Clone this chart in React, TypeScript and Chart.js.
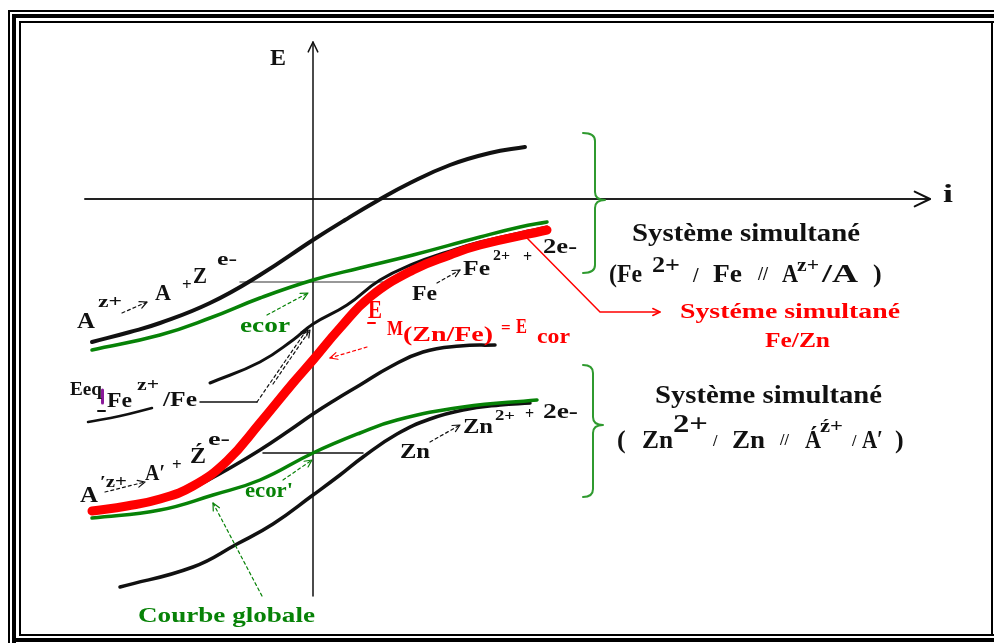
import React, { useEffect, useRef } from "react";
import { Chart, registerables } from "chart.js";

Chart.register(...registerables);

type P = [number, number];

// Polarisation curves: current i (x) against potential E (y), arbitrary units,
// origin where the i and E axes cross.
const curveA: P[] = [[-221, -143], [-183, -133], [-153, -124], [-103, -104], [-53, -76], [0, -41], [32, -21], [64, -2], [97, 16], [137, 34], [177, 46], [212, 52]];
const globalFeA: P[] = [[-221, -151], [-153, -136], [-103, -119], [-53, -99], [0, -81], [47, -69], [100, -56], [167, -38], [207, -28], [234, -23]];
const curveFe: P[] = [[-103, -184], [-53, -163], [-20, -141], [0, -125], [34, -106], [67, -81], [100, -65], [134, -53], [167, -43], [234, -28]];
const eqFeStub: P[] = [[-225, -223], [-193, -217], [-161, -209]];
const globalFeZn: P[] = [[-221, -312], [-186, -307], [-153, -300], [-120, -287], [-86, -262], [-53, -224], [-20, -184], [0, -161], [27, -129], [57, -98], [100, -71], [137, -56], [167, -46], [234, -31]];
const curveAprime: P[] = [[-123, -291], [-83, -269], [-53, -251], [-23, -231], [0, -215], [22, -201], [47, -186], [77, -168], [110, -153], [147, -147], [182, -146]];
const globalZnA: P[] = [[-221, -319], [-153, -311], [-100, -296], [-53, -281], [0, -254], [47, -234], [84, -221], [150, -208], [224, -201]];
const curveZn: P[] = [[-193, -388], [-120, -368], [-76, -345], [-40, -325], [0, -296], [27, -276], [50, -258], [84, -235], [117, -220], [150, -211], [187, -206], [217, -204]];

// Axes and corrosion-potential guides
const axisE: P[] = [[0, 157], [0, -397]];
const axisI: P[] = [[-228, 0], [617, 0]];
const ecorFeLine: P[] = [[-73, -83], [70, -83]];
const ecorZnLine: P[] = [[-50, -254], [50, -254]];

const BLACK = "#111111";
const GREEN = "#078207";
const RED = "#ff0000";
const BRACE = "#2f9a2f";
const PURPLE = "#8a1a9a";

type Label = { t: string; x: number; y: number; s: number; c: string; w?: number };
const labels: Label[] = [
  { t: "E", x: -43, y: 134, s: 24, c: BLACK, w: 16 },
  { t: "i", x: 630, y: -3, s: 25, c: BLACK, w: 10 },
  // A^z+ -> A + z e-
  { t: "A", x: -236, y: -129, s: 24, c: BLACK, w: 18 },
  { t: "z+", x: -215, y: -108, s: 17, c: BLACK, w: 24 },
  { t: "A", x: -158, y: -101, s: 23, c: BLACK, w: 16 },
  { t: "+", x: -131, y: -91, s: 17, c: BLACK },
  { t: "Z", x: -120, y: -84, s: 23, c: BLACK, w: 14 },
  { t: "e-", x: -96, y: -66, s: 19, c: BLACK, w: 20 },
  { t: "ecor", x: -73, y: -133, s: 20, c: GREEN, w: 50 },
  // Eeq Fe z+/Fe
  { t: "Eeq", x: -243, y: -196, s: 19, c: BLACK, w: 32 },
  { t: "Fe", x: -206, y: -208, s: 20, c: BLACK, w: 25 },
  { t: "z+", x: -176, y: -191, s: 16, c: BLACK, w: 22 },
  { t: "/Fe", x: -150, y: -207, s: 20, c: BLACK, w: 34 },
  // Fe -> Fe2+ + 2e-
  { t: "Fe", x: 99, y: -101, s: 20, c: BLACK, w: 25 },
  { t: "Fe", x: 150, y: -76, s: 20, c: BLACK, w: 27 },
  { t: "2+", x: 180, y: -61, s: 15, c: BLACK, w: 17 },
  { t: "+", x: 210, y: -63, s: 16, c: BLACK },
  { t: "2e-", x: 230, y: -54, s: 20, c: BLACK, w: 34 },
  // E M(Zn/Fe) = E cor
  { t: "E", x: 55, y: -119, s: 26, c: RED, w: 14 },
  { t: "M", x: 74, y: -136, s: 20, c: RED, w: 16 },
  { t: "(Zn/Fe)", x: 90, y: -142, s: 20, c: RED, w: 90 },
  { t: "=", x: 188, y: -134, s: 17, c: RED },
  { t: "E", x: 203, y: -134, s: 20, c: RED, w: 11 },
  { t: "cor", x: 224, y: -144, s: 22, c: RED, w: 33 },
  // first simultaneous system
  { t: "Système simultané", x: 319, y: -42, s: 26, c: BLACK, w: 228 },
  { t: "(Fe", x: 296, y: -83, s: 26, c: BLACK, w: 33 },
  { t: "2+", x: 339, y: -73, s: 23, c: BLACK, w: 28 },
  { t: "/", x: 380, y: -83, s: 20, c: BLACK },
  { t: "Fe", x: 400, y: -83, s: 26, c: BLACK, w: 29 },
  { t: "//", x: 445, y: -81, s: 18, c: BLACK },
  { t: "A", x: 469, y: -83, s: 26, c: BLACK, w: 16 },
  { t: "z+", x: 484, y: -72, s: 19, c: BLACK, w: 22 },
  { t: "/A", x: 509, y: -83, s: 26, c: BLACK, w: 36 },
  { t: ")", x: 560, y: -83, s: 26, c: BLACK },
  { t: "Systéme simultané", x: 367, y: -119, s: 22, c: RED, w: 220 },
  { t: "Fe/Zn", x: 452, y: -148, s: 22, c: RED, w: 65 },
  // second simultaneous system
  { t: "Système simultané", x: 342, y: -204, s: 26, c: BLACK, w: 227 },
  { t: "(", x: 304, y: -249, s: 26, c: BLACK },
  { t: "Zn", x: 329, y: -249, s: 26, c: BLACK, w: 31 },
  { t: "2+", x: 360, y: -233, s: 25, c: BLACK, w: 35 },
  { t: "/", x: 400, y: -247, s: 16, c: BLACK },
  { t: "Zn", x: 419, y: -249, s: 26, c: BLACK, w: 33 },
  { t: "//", x: 467, y: -246, s: 16, c: BLACK },
  { t: "Á", x: 492, y: -249, s: 26, c: BLACK, w: 16 },
  { t: "ź+", x: 507, y: -233, s: 18, c: BLACK, w: 23 },
  { t: "/", x: 539, y: -247, s: 16, c: BLACK },
  { t: "A′", x: 549, y: -249, s: 26, c: BLACK, w: 21 },
  { t: ")", x: 582, y: -249, s: 26, c: BLACK },
  // A'z+ -> A' + z e-
  { t: "A", x: -233, y: -303, s: 24, c: BLACK, w: 18 },
  { t: "′z+", x: -213, y: -288, s: 17, c: BLACK, w: 27 },
  { t: "A′", x: -168, y: -281, s: 23, c: BLACK, w: 20 },
  { t: "+", x: -141, y: -271, s: 17, c: BLACK },
  { t: "Ź", x: -123, y: -264, s: 23, c: BLACK, w: 16 },
  { t: "e-", x: -105, y: -246, s: 19, c: BLACK, w: 22 },
  { t: "ecor'", x: -68, y: -298, s: 20, c: GREEN, w: 48 },
  // Zn -> Zn2+ + 2e-
  { t: "Zn", x: 87, y: -259, s: 20, c: BLACK, w: 30 },
  { t: "Zn", x: 150, y: -234, s: 20, c: BLACK, w: 30 },
  { t: "2+", x: 182, y: -221, s: 15, c: BLACK, w: 20 },
  { t: "+", x: 212, y: -220, s: 16, c: BLACK },
  { t: "2e-", x: 230, y: -219, s: 20, c: BLACK, w: 35 },
  { t: "Courbe globale", x: -175, y: -423, s: 22, c: GREEN, w: 177 },
];

type Arrow = { pts: P[]; c: string; dash?: boolean; head?: boolean; lw?: number };
const arrows: Arrow[] = [
  { pts: [[-191, -114], [-166, -103]], c: BLACK, dash: true, head: true },
  { pts: [[-46, -116], [-5, -94]], c: GREEN, dash: true, head: true },
  { pts: [[-113, -203], [-56, -203]], c: BLACK, lw: 1.5 },
  { pts: [[-56, -203], [-5, -129]], c: BLACK, dash: true, head: true },
  { pts: [[-40, -185], [-3, -131]], c: BLACK, dash: true, head: true },
  { pts: [[124, -84], [147, -71]], c: BLACK, dash: true, head: true },
  { pts: [[54, -148], [17, -159]], c: RED, dash: true, head: true },
  { pts: [[214, -39], [287, -113], [347, -113]], c: RED, head: true, lw: 1.5 },
  { pts: [[-208, -293], [-168, -283]], c: BLACK, dash: true, head: true },
  { pts: [[-30, -281], [-1, -261]], c: GREEN, dash: true, head: true },
  { pts: [[-51, -397], [-100, -304]], c: GREEN, dash: true, head: true },
  { pts: [[117, -243], [147, -226]], c: BLACK, dash: true, head: true },
  // small strokes under symbols
  { pts: [[-215, -212], [-208, -212]], c: BLACK, lw: 2 },
  { pts: [[55, -124], [62, -124]], c: RED, lw: 2 },
  { pts: [[-210.5, -191], [-210.5, -204]], c: PURPLE, lw: 3 },
];

const braces = [
  { x0: 270, xm: 282, x1: 292, top: 66, mid: -1, bot: -74 },
  { x0: 270, xm: 280, x1: 290, top: -166, mid: -226, bot: -298 },
];

const FONT = '"Liberation Serif", "Times New Roman", serif';

function drawHead(ctx: CanvasRenderingContext2D, x0: number, y0: number, x1: number, y1: number, len = 8) {
  const a = Math.atan2(y1 - y0, x1 - x0);
  ctx.beginPath();
  ctx.moveTo(x1 - len * Math.cos(a - 0.45), y1 - len * Math.sin(a - 0.45));
  ctx.lineTo(x1, y1);
  ctx.lineTo(x1 - len * Math.cos(a + 0.45), y1 - len * Math.sin(a + 0.45));
  ctx.stroke();
}

const diagramPlugin = {
  id: "diagramDecor",
  beforeDraw(chart: any) {
    const { ctx, width, height } = chart;
    ctx.save();
    ctx.fillStyle = "#ffffff";
    ctx.fillRect(0, 0, width, height);
    ctx.fillStyle = "#000000";
    // triple frame
    ctx.fillRect(8, 10, width - 8, 2);
    ctx.fillRect(8, 10, 2, height - 10);
    ctx.fillRect(12, 14, width - 12, 4);
    ctx.fillRect(12, 14, 4, height - 14);
    ctx.fillRect(12, 638, width - 12, 4);
    ctx.fillRect(19, 21, width - 19, 2);
    ctx.fillRect(19, 21, 2, 615);
    ctx.fillRect(19, 634, width - 19, 2);
    ctx.fillRect(991, 21, 2, 615);
    ctx.restore();
  },
  afterDatasetsDraw(chart: any) {
    const { ctx } = chart;
    const sx = chart.scales.x;
    const sy = chart.scales.y;
    const px = (v: number) => sx.getPixelForValue(v);
    const py = (v: number) => sy.getPixelForValue(v);
    ctx.save();
    ctx.lineCap = "round";
    ctx.lineJoin = "round";

    // axis arrowheads
    ctx.strokeStyle = BLACK;
    ctx.lineWidth = 1.5;
    drawHead(ctx, px(axisE[1][0]), py(axisE[1][1]), px(axisE[0][0]), py(axisE[0][1]), 11);
    ctx.lineWidth = 2;
    drawHead(ctx, px(axisI[0][0]), py(axisI[0][1]), px(axisI[1][0]), py(axisI[1][1]), 17);

    // braces
    ctx.strokeStyle = BRACE;
    ctx.lineWidth = 2;
    for (const b of braces) {
      const x0 = px(b.x0), xm = px(b.xm), x1 = px(b.x1);
      const t = py(b.top), m = py(b.mid), bt = py(b.bot);
      const r = 8;
      ctx.beginPath();
      ctx.moveTo(x0, t);
      ctx.quadraticCurveTo(xm, t, xm, t + r);
      ctx.lineTo(xm, m - r);
      ctx.quadraticCurveTo(xm, m, x1, m);
      ctx.quadraticCurveTo(xm, m, xm, m + r);
      ctx.lineTo(xm, bt - r);
      ctx.quadraticCurveTo(xm, bt, x0, bt);
      ctx.stroke();
    }

    // annotation arrows
    for (const a of arrows) {
      ctx.strokeStyle = a.c;
      ctx.lineWidth = a.lw ?? 1.2;
      ctx.setLineDash(a.dash ? [3, 3] : []);
      ctx.beginPath();
      a.pts.forEach(([x, y], i) => (i ? ctx.lineTo(px(x), py(y)) : ctx.moveTo(px(x), py(y))));
      ctx.stroke();
      ctx.setLineDash([]);
      if (a.head) {
        const n = a.pts.length;
        drawHead(ctx, px(a.pts[n - 2][0]), py(a.pts[n - 2][1]), px(a.pts[n - 1][0]), py(a.pts[n - 1][1]), 8);
      }
    }

    // text
    ctx.textAlign = "left";
    ctx.textBaseline = "alphabetic";
    for (const l of labels) {
      ctx.save();
      ctx.font = `bold ${l.s}px ${FONT}`;
      ctx.fillStyle = l.c;
      ctx.translate(px(l.x), py(l.y));
      if (l.w) {
        const w = ctx.measureText(l.t).width;
        ctx.scale(l.w / w, 1);
      }
      ctx.fillText(l.t, 0, 0);
      ctx.restore();
    }
    ctx.restore();
  },
};

function series(data: P[], color: string, width: number, order: number, curved = true) {
  return {
    data: data.map(([x, y]) => ({ x, y })),
    borderColor: color,
    backgroundColor: color,
    borderWidth: width,
    pointRadius: 0,
    showLine: true,
    fill: false,
    order,
    tension: curved ? 0.45 : 0,
    cubicInterpolationMode: "default",
    borderCapStyle: "round",
    borderJoinStyle: "round",
  };
}

export default function App() {
  const canvasRef = useRef<HTMLCanvasElement | null>(null);

  useEffect(() => {
    if (!canvasRef.current) return;
    const chart = new Chart(canvasRef.current, {
      type: "scatter",
      data: {
        datasets: [
          series(globalFeA, GREEN, 3.5, 0),
          series(globalZnA, GREEN, 3.5, 0),
          series(globalFeZn, RED, 9, 1),
          series(curveA, BLACK, 4, 2),
          series(curveFe, BLACK, 3, 2),
          series(eqFeStub, BLACK, 2.5, 2),
          series(curveAprime, BLACK, 3.5, 2),
          series(curveZn, BLACK, 3.5, 2),
          series(axisE, BLACK, 1.5, 3, false),
          series(axisI, "#222222", 2, 3, false),
          series(ecorFeLine, "#777777", 1.5, 3, false),
          series(ecorZnLine, BLACK, 1.5, 3, false),
        ] as any,
      },
      options: {
        animation: false,
        responsive: true,
        maintainAspectRatio: false,
        devicePixelRatio: 1,
        events: [],
        layout: { padding: 0 },
        plugins: { legend: { display: false }, tooltip: { enabled: false } },
        scales: {
          x: { type: "linear", min: -313, max: 681, display: false },
          y: { type: "linear", min: -444, max: 199, display: false },
        },
      },
      plugins: [diagramPlugin],
    });
    return () => chart.destroy();
  }, []);

  return (
    <div style={{ position: "absolute", left: 0, top: 0, width: 994, height: 643, background: "#fff" }}>
      <canvas ref={canvasRef} />
    </div>
  );
}
